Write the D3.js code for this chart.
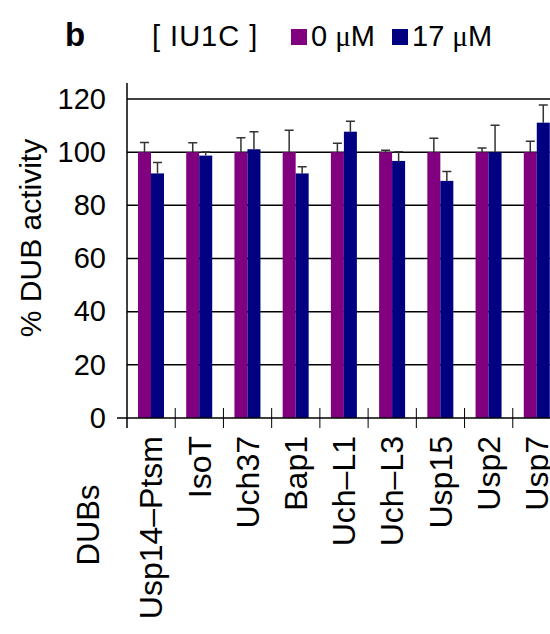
<!DOCTYPE html>
<html>
<head>
<meta charset="utf-8">
<script src="https://cdn.jsdelivr.net/npm/d3@7/dist/d3.min.js"></script>
<style>
  html, body { margin: 0; padding: 0; background: #fff; }
  svg { display: block; }
</style>
</head>
<body>
<div id="chart"></div>
<script>
// --- CONFIGURATION ---
const WIDTH = 550;
const HEIGHT = 634;
const PLOT = { left: 127, right: 561, top: 99, bottom: 418 };
const FONT = "'Liberation Sans', Arial, Helvetica, sans-serif";
const SERIF = "'Liberation Serif', 'Times New Roman', serif";

// --- DATA ---
const categories = ["Usp14\u2013Ptsm", "IsoT", "Uch37", "Bap1", "Uch\u2013L1", "Uch\u2013L3", "Usp15", "Usp2", "Usp7"];
const seriesNames = ["0", "17"];
const control = [100, 100, 100, 100, 100, 100, 100, 100, 100];
const controlErr = [3.6, 3.5, 5.4, 8.2, 3.4, 0.7, 5.2, 1.6, 4.1];
const treated = [92.0, 98.7, 101.1, 92.0, 107.7, 96.7, 89.2, 100.0, 111.1];
const treatedErr = [4.1, 1.4, 6.6, 2.5, 3.9, 3.5, 3.5, 10.1, 6.6];
const yTicks = [0, 20, 40, 60, 80, 100, 120];

const COLORS = ["#800080", "#000080"];

function drawChart() {
    const rows = categories.map((c, i) => ({
        cat: c,
        bars: [
            { s: seriesNames[0], v: control[i], e: controlErr[i] },
            { s: seriesNames[1], v: treated[i], e: treatedErr[i] }
        ]
    }));

    const x = d3.scaleBand().domain(categories).range([PLOT.left, PLOT.right]).padding(0);
    const xSub = d3.scaleBand().domain(seriesNames).range([11, 37]).padding(0);
    const y = d3.scaleLinear().domain([0, 120]).range([PLOT.bottom, PLOT.top]);
    const color = d3.scaleOrdinal().domain(seriesNames).range(COLORS);

    const svg = d3.select("#chart").append("svg")
        .attr("width", WIDTH).attr("height", HEIGHT)
        .style("font-family", FONT);

    svg.append("rect").attr("width", WIDTH).attr("height", HEIGHT).attr("fill", "#fff");

    // gridlines (behind bars)
    svg.append("g").selectAll("line")
        .data(yTicks.filter(t => t > 0))
        .join("line")
        .attr("x1", PLOT.left).attr("x2", WIDTH)
        .attr("y1", d => y(d)).attr("y2", d => y(d))
        .attr("stroke", "#000").attr("stroke-width", 1.5);

    // bars
    const groups = svg.append("g").selectAll("g")
        .data(rows).join("g")
        .attr("transform", d => `translate(${x(d.cat)},0)`);

    groups.selectAll("rect")
        .data(d => d.bars).join("rect")
        .attr("x", d => xSub(d.s))
        .attr("width", xSub.bandwidth())
        .attr("y", d => y(d.v))
        .attr("height", d => y(0) - y(d.v))
        .attr("fill", d => color(d.s));

    // error bars (upper only)
    const capW = 9;
    groups.selectAll("path.err")
        .data(d => d.bars).join("path")
        .attr("class", "err")
        .attr("d", d => {
            const cx = xSub(d.s) + xSub.bandwidth() / 2;
            const y1 = y(d.v), y2 = y(d.v + d.e);
            return `M${cx},${y1}V${y2}M${cx - capW / 2},${y2}H${cx + capW / 2}`;
        })
        .attr("fill", "none")
        .attr("stroke", "#333").attr("stroke-width", 1.5);

    // y axis
    const yAxis = d3.axisLeft(y).tickValues(yTicks).tickSize(0).tickPadding(21);
    svg.append("g")
        .attr("transform", `translate(${PLOT.left},0)`)
        .call(yAxis)
        .call(g => g.select(".domain").remove())
        .selectAll("text")
        .attr("font-family", FONT)
        .attr("font-size", "29px")
        .attr("fill", "#000");

    svg.append("line")
        .attr("x1", PLOT.left).attr("x2", PLOT.left)
        .attr("y1", 83).attr("y2", PLOT.bottom + 10)
        .attr("stroke", "#000").attr("stroke-width", 1.5);

    // x axis
    svg.append("line")
        .attr("x1", PLOT.left - 10).attr("x2", WIDTH)
        .attr("y1", y(0)).attr("y2", y(0))
        .attr("stroke", "#000").attr("stroke-width", 1.5);

    const bounds = categories.map(c => x(c)).concat([x.range()[1]]).slice(1);
    svg.append("g").selectAll("line")
        .data(bounds).join("line")
        .attr("x1", d => d).attr("x2", d => d)
        .attr("y1", y(0) - 10).attr("y2", y(0) + 10)
        .attr("stroke", "#000").attr("stroke-width", 1);

    // category labels, rotated
    svg.append("g").selectAll("text")
        .data(categories).join("text")
        .attr("transform", d => `translate(${x(d) + x.bandwidth() / 2},${y(0) + 18}) rotate(-90)`)
        .attr("text-anchor", "end")
        .attr("dy", "0.35em")
        .attr("font-size", "32px")
        .text(d => d);

    // axis titles
    svg.append("text")
        .attr("transform", `translate(30,238) rotate(-90)`)
        .attr("text-anchor", "middle")
        .attr("dy", "0.35em")
        .attr("font-size", "30px")
        .text("% DUB activity");

    svg.append("text")
        .attr("transform", `translate(88,525) rotate(-90)`)
        .attr("text-anchor", "middle")
        .attr("dy", "0.35em")
        .attr("font-size", "31px")
        .text("DUBs");

    // panel letter
    svg.append("text")
        .attr("x", 65).attr("y", 46)
        .attr("font-size", "33px").attr("font-weight", "bold")
        .text("b");

    // legend
    svg.append("text")
        .attr("x", 152).attr("y", 46)
        .attr("font-size", "29px")
        .attr("letter-spacing", "1px")
        .text("[ IU1C ]");

    const legend = svg.append("g").selectAll("g")
        .data(seriesNames).join("g")
        .attr("transform", (d, i) => `translate(${[291, 392][i]},0)`);

    legend.append("rect")
        .attr("x", 0).attr("y", 29).attr("width", 16).attr("height", 16)
        .attr("fill", d => color(d));

    const lt = legend.append("text")
        .attr("x", 20).attr("y", 46)
        .attr("font-size", "29px");
    lt.append("tspan").text(d => d + " ");
    lt.append("tspan").attr("font-family", SERIF).text("\u03bc");
    lt.append("tspan").text("M");
}

drawChart();
</script>
</body>
</html>
